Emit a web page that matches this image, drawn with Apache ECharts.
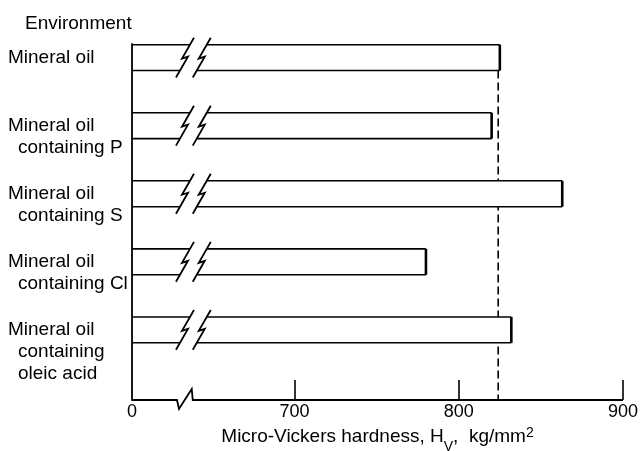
<!DOCTYPE html>
<html><head><meta charset="utf-8">
<script src="https://cdn.jsdelivr.net/npm/echarts@6/dist/echarts.min.js"></script>
<style>html,body{margin:0;padding:0;background:#fff}#c{width:640px;height:451px}</style>
</head><body><div id="c"></div>
<script>
// ---- data ----
const categories = ['Mineral oil', 'Mineral oil\ncontaining P', 'Mineral oil\ncontaining S', 'Mineral oil\ncontaining Cl', 'Mineral oil\ncontaining\noleic acid'];
const hardness = [825, 820, 863, 780, 832];
const referenceHardness = 824;
const tickValues = [0, 700, 800, 900];
const tickLabels = ['0', '700', '800', '900'];
const axisBreak = { start: 28, end: 638, gap: 9 };

// ---- style ----
const FONT = '"Liberation Sans", Arial, sans-serif';
const INK = '#000';
const BAR_HALF = 0.19;      // half bar height in category units
const Y_MIN = -0.2, Y_MAX = 5.03;
const LABEL_SHIFT = 0.16;

const chart = echarts.init(document.getElementById('c'), null, { renderer: 'canvas' });

function zigzag(xc, yc, h) {
  return [[xc + 9, yc - h - 7], [xc - 3, yc + 1], [xc + 3, yc - 1], [xc - 9, yc + h + 7]];
}
function crossX(p, q, y) {
  const t = (y - p[1]) / (q[1] - p[1]);
  return p[0] + (q[0] - p[0]) * t;
}

function renderBar(params, api) {
  const v = api.value(0), i = api.value(1);
  const c0 = api.coord([0, i]);
  const x0 = c0[0], yc = c0[1];
  const h = api.size([0, 1])[1] * BAR_HALF;
  const top = yc - h, bot = yc + h;
  const xEnd = api.coord([v, i])[0];
  const xz1 = api.coord([axisBreak.start, i])[0] + 7;
  const xz2 = api.coord([axisBreak.end, i])[0] + 9;
  const z1 = zigzag(xz1, yc, h), z2 = zigzag(xz2, yc, h);
  const z1t = crossX(z1[0], z1[1], top), z1b = crossX(z1[2], z1[3], bot);
  const z2t = crossX(z2[0], z2[1], top), z2b = crossX(z2[2], z2[3], bot);
  const ls = { stroke: INK, lineWidth: 1.6, fill: null };
  return {
    type: 'group',
    children: [
      { type: 'polygon', shape: { points: [[z2t, top], [xEnd, top], [xEnd, bot], [z2b, bot]] }, style: { fill: '#fff', stroke: null } },
      { type: 'polyline', shape: { points: [[x0, top], [z1t, top]] }, style: ls },
      { type: 'polyline', shape: { points: [[x0, bot], [z1b, bot]] }, style: ls },
      { type: 'polyline', shape: { points: z1 }, style: { stroke: INK, lineWidth: 1.8, fill: null } },
      { type: 'polyline', shape: { points: z2 }, style: { stroke: INK, lineWidth: 1.8, fill: null } },
      { type: 'polyline', shape: { points: [[z2t, top], [xEnd, top]] }, style: ls },
      { type: 'polyline', shape: { points: [[z2b, bot], [xEnd, bot]] }, style: ls },
      { type: 'line', shape: { x1: xEnd, y1: top, x2: xEnd, y2: bot }, style: { stroke: INK, lineWidth: 2.6 } }
    ]
  };
}

function renderRef(params, api) {
  const v = api.value(0);
  const p1 = api.coord([v, BAR_HALF]);
  const cs = params.coordSys;
  return {
    type: 'line',
    shape: { x1: p1[0], y1: p1[1], x2: p1[0], y2: cs.y + cs.height },
    style: { stroke: INK, lineWidth: 1.6, lineDash: [8, 4] }
  };
}

function renderAxis(params, api) {
  const cs = params.coordSys;
  const yb = cs.y + cs.height;
  const xa = api.coord([tickValues[0], 0])[0];
  const xs = api.coord([axisBreak.start, 0])[0];
  const xe = api.coord([axisBreak.end, 0])[0];
  const xm = api.coord([tickValues[tickValues.length - 1], 0])[0];
  return {
    type: 'polyline',
    shape: { points: [[xa, yb], [xs - 1, yb], [xs + 1, yb + 9], [xe - 1, yb - 11], [xe, yb], [xm, yb]] },
    style: { stroke: INK, lineWidth: 1.8, fill: null }
  };
}

const option = {
  backgroundColor: '#fff',
  animation: false,
  title: {
    text: 'Environment', left: 20, top: 9,
    textStyle: { fontFamily: FONT, fontSize: 19, fontWeight: 'normal', color: INK }
  },
  grid: { left: 132, right: 17, top: 44, bottom: 51, outerBoundsMode: 'none' },
  xAxis: {
    type: 'value', min: tickValues[0], max: tickValues[tickValues.length - 1],
    position: 'bottom',
    breaks: [axisBreak],
    breakArea: { show: false },
    axisLine: { show: false, onZero: false },
    splitLine: { show: false },
    axisTick: { show: true, inside: true, length: 20, customValues: tickValues.slice(1), lineStyle: { color: INK, width: 1.6 } },
    axisLabel: {
      customValues: tickValues, margin: 3, color: INK, fontFamily: FONT, fontSize: 18,
      formatter: v => tickLabels[tickValues.indexOf(v)] ?? ''
    },
    name: '{t|Micro-Vickers hardness, H}{sub|V}{t|,  kg/mm}{sup|2}',
    nameLocation: 'middle', nameGap: 19,
    nameTextStyle: {
      color: INK, fontFamily: FONT,
      rich: {
        t: { fontSize: 19, lineHeight: 22, color: INK, fontFamily: FONT },
        sub: { fontSize: 14, lineHeight: 12, verticalAlign: 'bottom', color: INK, fontFamily: FONT, padding: [0, 0, -6, 0] },
        sup: { fontSize: 14, lineHeight: 12, verticalAlign: 'top', color: INK, fontFamily: FONT }
      }
    }
  },
  yAxis: {
    type: 'value', inverse: true, min: Y_MIN, max: Y_MAX,
    axisLine: { show: true, onZero: false, lineStyle: { color: INK, width: 1.8 } },
    axisTick: { show: false },
    splitLine: { show: false },
    axisLabel: {
      customValues: categories.map((_, i) => i - LABEL_SHIFT),
      align: 'left', verticalAlign: 'top', margin: 124, color: INK,
      formatter: v => {
        const idx = Math.round(v + LABEL_SHIFT);
        return categories[idx].split('\n').map((l, k) => k === 0 ? '{a|' + l + '}' : '{b|' + l + '}').join('\n');
      },
      rich: {
        a: { fontFamily: FONT, fontSize: 19, lineHeight: 22, color: INK },
        b: { fontFamily: FONT, fontSize: 19, lineHeight: 22, color: INK, padding: [0, 0, 0, 10] }
      }
    }
  },
  series: [
    { type: 'custom', name: 'reference', z: 1, clip: false, renderItem: renderRef, data: [[referenceHardness]], encode: { x: 0 } },
    { type: 'custom', name: 'hardness', z: 2, clip: false, renderItem: renderBar, data: hardness.map((v, i) => [v, i]), encode: { x: 0, y: 1 } },
    { type: 'custom', name: 'axis', z: 3, clip: false, renderItem: renderAxis, data: [[0]], encode: { x: 0 } }
  ]
};
chart.setOption(option);
</script>
</body></html>
